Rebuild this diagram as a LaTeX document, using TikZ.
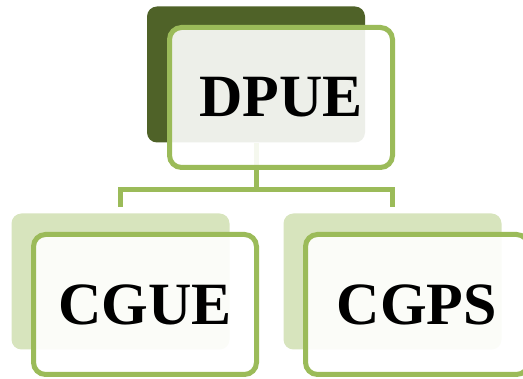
\documentclass[tikz,border=0pt]{standalone}
\usepackage{fontspec}
\setmainfont{Liberation Serif}
\usetikzlibrary{positioning, calc}
\definecolor{olivedark}{HTML}{4F6228}
\definecolor{olivegreen}{HTML}{9BBB59}
\definecolor{olivelight}{HTML}{D7E4BD}

\begin{document}
\begin{tikzpicture}[x=1pt, y=-1pt,
  backbox/.style={rounded corners=10pt, minimum width=218pt, minimum height=136pt, inner sep=0pt},
  frontbox/.style={draw=olivegreen, line width=5pt, fill=white, fill opacity=0.9, text opacity=1, rounded corners=12pt, minimum width=223pt, minimum height=140pt, inner sep=0pt, font=\fontsize{60}{66}\selectfont\bfseries},
  link/.style={draw=olivegreen, line width=5pt}
]
  \useasboundingbox (0,0) rectangle (523,379);

  % Shadow boxes
  \node[backbox, fill=olivedark] (dpueback) at (256,74.5) {};
  \node[backbox, fill=olivelight] (cgueback) at (120.5,281.5) {};
  \node[backbox, fill=olivelight] (cgpsback) at (392.5,281.5) {};

  % Connector
  \coordinate (bus) at (256,190);
  \draw[link] (dpueback.south) -- (bus) -| ([yshift=6pt]cgueback.north);
  \draw[link] (bus) -| ([yshift=6pt]cgpsback.north);

  % Front boxes
  \node[frontbox] (dpue) at ($(dpueback)+(25,23)$) {DPUE};
  \node[frontbox] (cgue) at ($(cgueback)+(24.5,23)$) {CGUE};
  \node[frontbox] (cgps) at ($(cgpsback)+(24.5,23)$) {CGPS};
\end{tikzpicture}
\end{document}
